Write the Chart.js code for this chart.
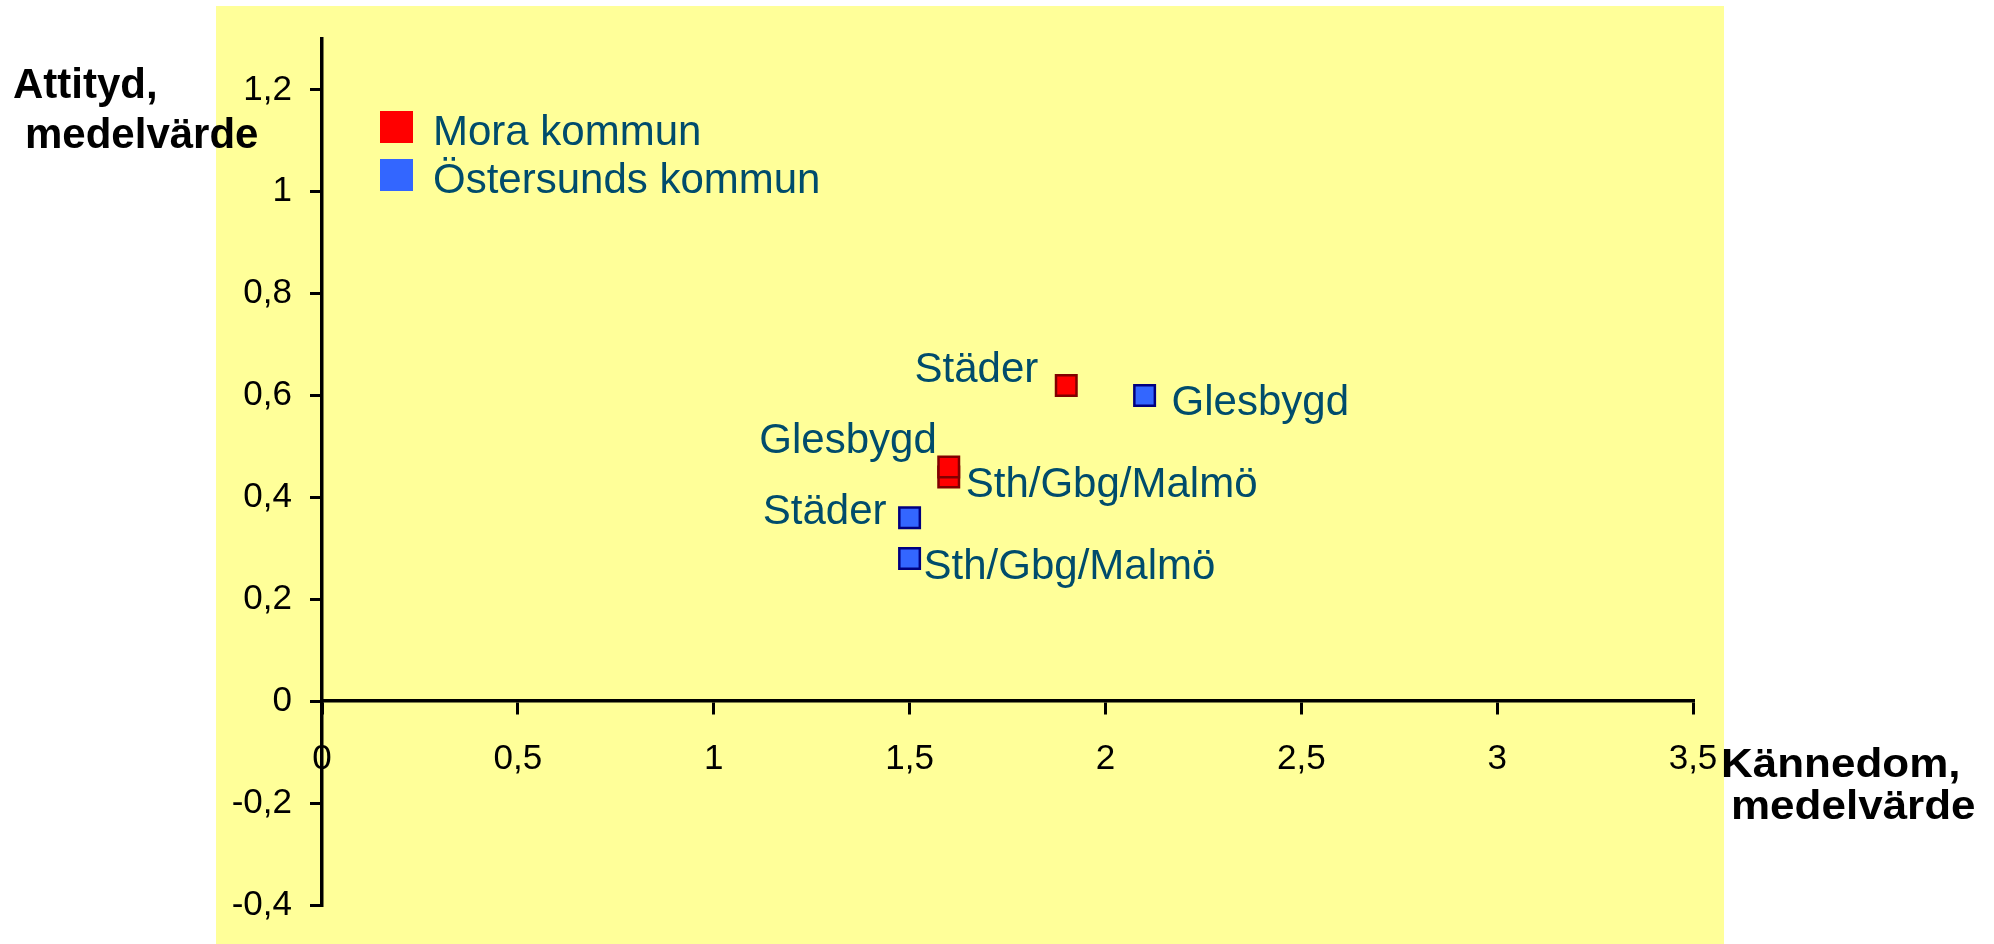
<!DOCTYPE html>
<html>
<head>
<meta charset="utf-8">
<title>Kännedom och attityd</title>
<script src="https://cdn.jsdelivr.net/npm/chart.js@4.4.1/dist/chart.umd.min.js"></script>
<style>
  html, body { margin: 0; padding: 0; background: #fff; }
  #wrap { position: relative; width: 1994px; height: 944px; }
</style>
</head>
<body>
<div id="wrap"><canvas id="myChart"></canvas></div>
<script>
// data (kännedom = x, attityd = y)
const seriesNames = ['Mora kommun', 'Östersunds kommun']

const moraAreas = ['Städer', 'Sth/Gbg/Malmö', 'Glesbygd']
const moraKannedom = [1.9, 1.6, 1.6]
const moraAttityd = [0.62, 0.44, 0.46]

const ostAreas = ['Glesbygd', 'Städer', 'Sth/Gbg/Malmö']
const ostKannedom = [2.1, 1.5, 1.5]
const ostAttityd = [0.6, 0.36, 0.28]

const xTicks = [0, 0.5, 1, 1.5, 2, 2.5, 3, 3.5]
const yTicks = [-0.4, -0.2, 0, 0.2, 0.4, 0.6, 0.8, 1, 1.2]
const xTitle = ['Kännedom,', 'medelvärde']
const yTitle = ['Attityd,', 'medelvärde']

// styling
const FONT = "'Liberation Sans', Arial, Helvetica, sans-serif"
const labelColor = '#004c6c'
const colors = [
  { fill: '#ff0000', border: '#800000' },
  { fill: '#3366ff', border: '#000080' }
]
// where each area label sits next to its point: [textAlign, dx, dy]
const moraLabelPos = [['right', -28, -3], ['left', 17, 20], ['right', -12, -14]]
const ostLabelPos = [['left', 27, 19], ['right', -23, 6], ['left', 14, 20]]

Chart.defaults.font.family = FONT

const fmt = v => String(Math.round(v * 10) / 10).replace('.', ',')

function toPoints(xs, ys) {
  return xs.map((x, i) => ({ x: x, y: ys[i] }))
}

// yellow panel behind the plot
const paper = {
  id: 'paper',
  beforeDraw(c) {
    const ctx = c.ctx
    ctx.save()
    ctx.fillStyle = '#ffff99'
    ctx.fillRect(216, 6, 1508, 938)
    ctx.restore()
  }
}

// area names next to each point
const pointNames = {
  id: 'pointNames',
  afterDatasetsDraw(c) {
    const ctx = c.ctx
    const names = [moraAreas, ostAreas]
    const pos = [moraLabelPos, ostLabelPos]
    ctx.save()
    ctx.font = '42px ' + FONT
    ctx.fillStyle = labelColor
    ctx.textBaseline = 'alphabetic'
    c.data.datasets.forEach((ds, i) => {
      c.getDatasetMeta(i).data.forEach((pt, j) => {
        const p = pos[i][j]
        ctx.textAlign = p[0]
        ctx.fillText(names[i][j], pt.x + p[1], pt.y + p[2])
      })
    })
    ctx.restore()
  }
}

// legend in the top left corner of the plot + axis titles
const extras = {
  id: 'extras',
  afterDraw(c) {
    const ctx = c.ctx
    ctx.save()
    c.data.datasets.forEach((ds, i) => {
      const top = 111 + i * 48
      ctx.fillStyle = ds.backgroundColor
      ctx.fillRect(380, top, 33, 32)
      ctx.fillStyle = labelColor
      ctx.font = '42px ' + FONT
      ctx.textAlign = 'left'
      ctx.textBaseline = 'alphabetic'
      ctx.fillText(ds.label, 433, top + 34)
    })

    ctx.fillStyle = '#000'
    ctx.font = 'bold 42px ' + FONT
    ctx.fillText(yTitle[0], 13, 98)
    ctx.fillText(yTitle[1], 25, 148)

    ctx.font = 'bold 40px ' + FONT
    const xs = [1721, 1731]
    const ys = [777, 819]
    xTitle.forEach((t, i) => {
      ctx.save()
      ctx.translate(xs[i], ys[i])
      ctx.scale(1.1, 1)
      ctx.fillText(t, 0, 0)
      ctx.restore()
    })
    ctx.restore()
  }
}

const chart = new Chart(document.getElementById('myChart'), {
  type: 'scatter',
  data: {
    datasets: [
      {
        label: seriesNames[0],
        data: toPoints(moraKannedom, moraAttityd),
        backgroundColor: colors[0].fill,
        borderColor: colors[0].border
      },
      {
        label: seriesNames[1],
        data: toPoints(ostKannedom, ostAttityd),
        backgroundColor: colors[1].fill,
        borderColor: colors[1].border
      }
    ]
  },
  options: {
    responsive: true,
    maintainAspectRatio: false,
    animation: false,
    clip: false,
    layout: { padding: { left: 216, top: 36, right: 301, bottom: 30 } },
    elements: {
      point: { pointStyle: 'rect', radius: 14.5, hoverRadius: 14.5, borderWidth: 2.5 }
    },
    plugins: {
      legend: { display: false },
      tooltip: { enabled: false }
    },
    scales: {
      x: {
        type: 'linear',
        min: 0,
        max: 3.5,
        position: { y: 0 },
        afterBuildTicks: s => { s.ticks = xTicks.map(v => ({ value: v })) },
        afterFit: s => { s.height = 0 },
        border: { color: '#000', width: 3.5 },
        grid: { drawOnChartArea: false, color: '#000', lineWidth: 3, tickLength: 12 },
        ticks: {
          color: '#000',
          font: { size: 35 },
          padding: 25,
          maxRotation: 0,
          autoSkip: false,
          callback: v => fmt(v)
        }
      },
      y: {
        type: 'linear',
        min: -0.4,
        max: 1.3,
        position: 'left',
        afterBuildTicks: s => { s.ticks = yTicks.map(v => ({ value: v })) },
        afterFit: s => { s.width = 106 },
        border: { color: '#000', width: 3.5 },
        grid: { drawOnChartArea: false, color: '#000', lineWidth: 3, tickLength: 12 },
        ticks: {
          color: '#000',
          font: { size: 35 },
          padding: 18,
          autoSkip: false,
          callback: v => fmt(v)
        }
      }
    }
  },
  plugins: [paper, pointNames, extras]
})
</script>
</body>
</html>
